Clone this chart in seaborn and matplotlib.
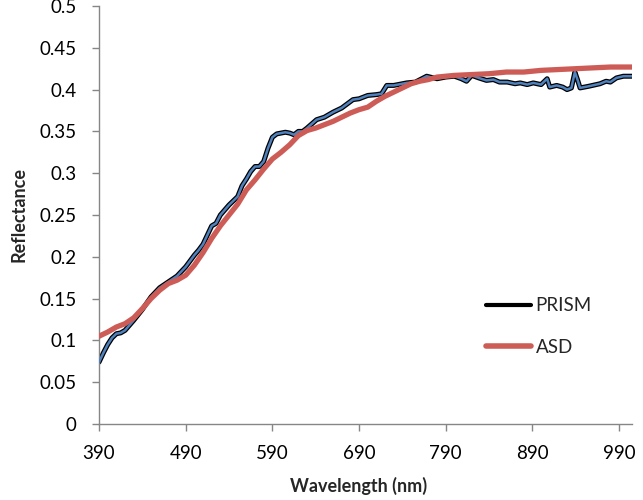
import pandas as pd
import matplotlib.pyplot as plt
import seaborn as sns
from matplotlib.ticker import FuncFormatter

# PRISM spectrum
prism_wl = [390, 395, 400, 405, 410, 415, 420, 425, 430, 440, 450, 460, 470, 480, 490,
            500, 505, 510, 520, 525, 530, 540, 550, 555, 560, 565, 570, 575, 580, 585,
            590, 595, 600, 605, 610, 615, 620, 625, 630, 641, 650, 660, 670, 683, 690,
            700, 710, 716, 722, 730, 745, 755, 768, 780, 790, 800, 808, 814, 820, 828,
            837, 845, 852, 861, 870, 876, 884, 891, 900, 907, 910, 918, 925, 930, 935,
            939, 942, 945, 955, 968, 975, 980, 987, 995, 1005]
prism_refl = [0.074, 0.085, 0.095, 0.103, 0.108, 0.109, 0.112, 0.118, 0.124, 0.137, 0.152, 0.163, 0.170, 0.177, 0.188,
              0.202, 0.208, 0.215, 0.237, 0.240, 0.250, 0.262, 0.272, 0.285, 0.293, 0.302, 0.308, 0.308, 0.314, 0.330,
              0.343, 0.347, 0.348, 0.349, 0.348, 0.346, 0.350, 0.350, 0.354, 0.364, 0.367, 0.373, 0.378, 0.388, 0.389,
              0.393, 0.394, 0.395, 0.405, 0.405, 0.408, 0.409, 0.416, 0.413, 0.415, 0.416, 0.413, 0.410, 0.417, 0.414,
              0.411, 0.412, 0.409, 0.409, 0.407, 0.408, 0.406, 0.408, 0.406, 0.413, 0.403, 0.405, 0.403, 0.400, 0.402,
              0.421, 0.412, 0.402, 0.404, 0.407, 0.410, 0.409, 0.414, 0.416, 0.416]

# ASD spectrum
asd_wl = [390, 400, 410, 420, 430, 440, 450, 460, 470, 480, 490, 500, 510, 520, 530,
          540, 550, 560, 570, 580, 590, 600, 610, 620, 630, 640, 650, 660, 670, 680,
          690, 700, 710, 720, 730, 740, 750, 760, 770, 780, 790, 800, 820, 840, 860,
          880, 900, 920, 940, 960, 980, 1005]
asd_refl = [0.105, 0.110, 0.116, 0.120, 0.127, 0.138, 0.150, 0.160, 0.168, 0.172, 0.178, 0.190, 0.205, 0.222, 0.237,
            0.250, 0.263, 0.280, 0.292, 0.305, 0.317, 0.325, 0.334, 0.345, 0.351, 0.354, 0.358, 0.362, 0.367, 0.372,
            0.376, 0.379, 0.386, 0.392, 0.397, 0.402, 0.407, 0.410, 0.412, 0.415, 0.416, 0.417, 0.418, 0.419, 0.421,
            0.421, 0.423, 0.424, 0.425, 0.426, 0.427, 0.427]

prism = pd.DataFrame({'Wavelength': prism_wl, 'Reflectance': prism_refl})
asd = pd.DataFrame({'Wavelength': asd_wl, 'Reflectance': asd_refl})

sns.set_style('white')
plt.rcParams['font.family'] = ['Lato', 'DejaVu Sans']

fig = plt.figure(figsize=(6.43, 5.0), dpi=100)
ax = fig.add_axes([0.154, 0.152, 0.829, 0.836])

# PRISM: black outline with blue core
sns.lineplot(prism, x='Wavelength', y='Reflectance', ax=ax, color='black', lw=3.6, label='PRISM', zorder=2)
ax.plot(prism['Wavelength'], prism['Reflectance'], color='#4F81BD', lw=1.8, zorder=3)
sns.lineplot(asd, x='Wavelength', y='Reflectance', ax=ax, color='#CD5C57', lw=3.8, label='ASD', zorder=4)

ax.set_xlim(390, 1005)
ax.set_ylim(0, 0.5)
ax.set_xticks(range(390, 1000, 100))
ax.set_yticks([i * 0.05 for i in range(11)])
ax.yaxis.set_major_formatter(FuncFormatter(lambda v, p: f'{round(v, 2):g}'))
ax.set_xlabel('Wavelength (nm)', fontsize=13, fontweight='bold')
ax.set_ylabel('Reflectance', fontsize=13, fontweight='bold')
ax.xaxis.set_label_coords(0.487, -0.127)
ax.yaxis.set_label_coords(-0.135, 0.5)

for s in ['top', 'right']:
    ax.spines[s].set_visible(False)
for s in ['left', 'bottom']:
    ax.spines[s].set_color('#868686')
    ax.spines[s].set_linewidth(1)
ax.tick_params(axis='both', which='major', direction='out', length=5, width=1,
               color='#868686', labelsize=13.5, labelcolor='black')
ax.tick_params(axis='y', left=True, pad=11)
ax.tick_params(axis='x', bottom=True, pad=10)

leg = ax.legend(loc='center left', bbox_to_anchor=(0.726, 0.233), frameon=False, fontsize=13.5,
                handlelength=2.4, handletextpad=0.25, labelspacing=1.3,
                borderpad=0, borderaxespad=0)
lw_leg = [3.0, 4.0]
for line, w in zip(leg.get_lines(), lw_leg):
    line.set_linewidth(w)

fig.savefig('out.png', dpi=100)
